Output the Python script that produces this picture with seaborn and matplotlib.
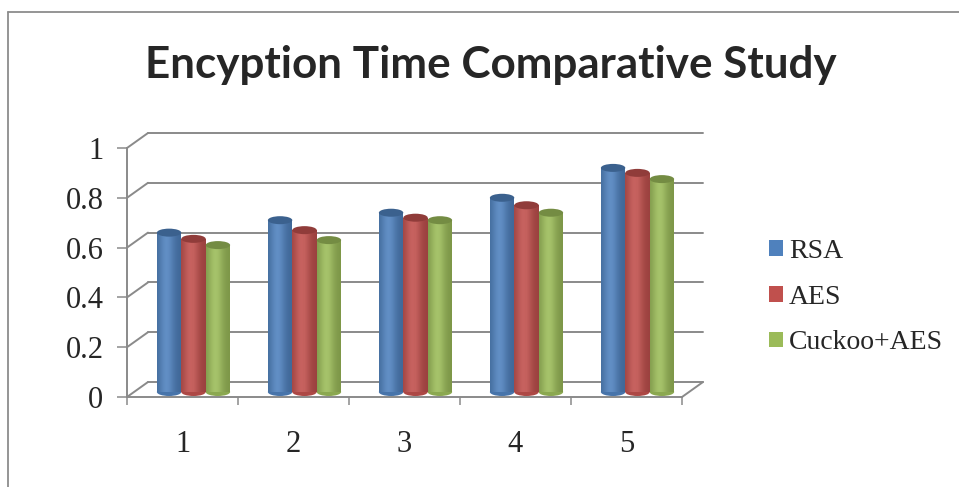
import matplotlib
matplotlib.use("Agg")
import matplotlib.pyplot as plt
import matplotlib.transforms as mtransforms
from matplotlib.patches import Rectangle, Ellipse
from matplotlib.lines import Line2D
import numpy as np
import pandas as pd
import seaborn as sns

categories = ["1", "2", "3", "4", "5"]
rsa = [0.64, 0.69, 0.72, 0.78, 0.90]
aes = [0.615, 0.65, 0.70, 0.75, 0.88]
cuckoo_aes = [0.59, 0.61, 0.69, 0.72, 0.855]
series = ["RSA", "AES", "Cuckoo+AES"]
colors = ["#4F81BD", "#C0504D", "#9BBB59"]
yticks = [0, 0.2, 0.4, 0.6, 0.8, 1.0]
ylabels = ["0", "0.2", "0.4", "0.6", "0.8", "1"]

df = pd.DataFrame({
    "run": categories * 3,
    "time": rsa + aes + cuckoo_aes,
    "method": [s for s in series for _ in categories],
})

sns.set_style("white")
plt.rcParams["font.family"] = ["Liberation Serif", "DejaVu Serif"]

W, H = 959, 487
fig = plt.figure(figsize=(W / 100, H / 100), dpi=100)
# front plane of the pseudo-3d box, in pixels
fx0, fx1, fy0, fy1 = 127, 682, 397, 148
ax = fig.add_axes([fx0 / W, (H - fy0) / H, (fx1 - fx0) / W, (fy0 - fy1) / H])

sns.barplot(data=df, x="run", y="time", hue="method", palette=colors,
            width=0.66, saturation=1, ax=ax, legend=False, linewidth=0)
ax.set_xlim(-0.5, 4.5)
ax.set_ylim(0, 1)

pxx = (fx1 - fx0) / 5.0      # px per category
pxy = (fy0 - fy1) / 1.0      # px per unit
gray = "#8a8a8a"

# back wall offset
DX, DY = 21 / pxx, 15 / pxy
for yv in yticks:
    ax.plot([-0.5 + DX, 4.5 + DX], [yv + DY, yv + DY], color=gray, lw=1.4,
            clip_on=False, zorder=0.5)
    ax.plot([-0.5, -0.5 + DX], [yv, yv + DY], color=gray, lw=1.4,
            clip_on=False, zorder=0.5)
ax.plot([4.5, 4.5 + DX], [0, DY], color=gray, lw=1.4, clip_on=False, zorder=0.5)

# bars sit a bit behind the front plane
off = mtransforms.offset_copy(ax.transData, fig=fig, x=11, y=5, units="dots")
bars = [p for p in ax.patches if isinstance(p, Rectangle) and p.get_height() > 0]
eh = 8 / pxy
for p in bars:
    p.set_transform(off)
    p.set_clip_on(False)
    base = np.array(matplotlib.colors.to_rgb(p.get_facecolor()))
    x, w, h = p.get_x(), p.get_width(), p.get_height()
    n = 24
    for k in range(n):
        t = (k + 0.5) / n
        # light near left third, darker at edges
        s = np.exp(-((t - 0.4) / 0.32) ** 2)
        c = base * (0.8 + 0.2 * s) + (1 - base) * 0.1 * s
        ax.add_patch(Rectangle((x + k * w / n, 0), w / n * 1.05, h, facecolor=np.clip(c, 0, 1),
                               edgecolor="none", transform=off, clip_on=False, zorder=2))
    ax.add_patch(Ellipse((x + w / 2, 0), w, eh, facecolor=base * 0.9, edgecolor="none",
                         transform=off, clip_on=False, zorder=1.9))
    ax.add_patch(Ellipse((x + w / 2, h), w, eh, facecolor=base * 0.75, edgecolor="none",
                         transform=off, clip_on=False, zorder=3))

# axes, ticks
for s in ["top", "right"]:
    ax.spines[s].set_visible(False)
for s in ["left", "bottom"]:
    ax.spines[s].set_color(gray)
    ax.spines[s].set_linewidth(1.4)
ax.set_yticks(yticks)
ax.set_yticklabels(ylabels, fontsize=22)
ax.tick_params(axis="y", length=7, width=1.1, color=gray, pad=10, left=True)
ax.set_xticks(range(5))
ax.set_xticklabels(categories, fontsize=22)
ax.tick_params(axis="x", which="major", length=0, pad=24)
ax.set_xticks(np.arange(-0.5, 5, 1), minor=True)
ax.tick_params(axis="x", which="minor", length=6, width=1.1, color=gray, bottom=True)
ax.set_xlabel("")
ax.set_ylabel("")
ax.grid(False)

# legend
handles = [Rectangle((0, 0), 1, 1, facecolor=c, edgecolor="none") for c in colors]
fig.legend(handles, series, loc="center left", bbox_to_anchor=(769 / W, 1 - 297 / H),
           frameon=False, fontsize=20, handlelength=0.5, handleheight=0.5,
           handletextpad=0.22, labelspacing=0.75, borderpad=0, borderaxespad=0)

fig.text(491 / W, 1 - 65 / H, "Encyption Time Comparative Study", ha="center", va="center",
         fontsize=31.7, fontweight="bold", family=["Lato", "DejaVu Sans"])

# chart border
fig.add_artist(Line2D([7.5 / W, 7.5 / W], [0, 1 - 11.5 / H], color="#8c8c8c", lw=1.3))
fig.add_artist(Line2D([7.5 / W, 1], [1 - 11.5 / H, 1 - 11.5 / H], color="#8c8c8c", lw=1.3))

fig.savefig("out.png", dpi=100)
